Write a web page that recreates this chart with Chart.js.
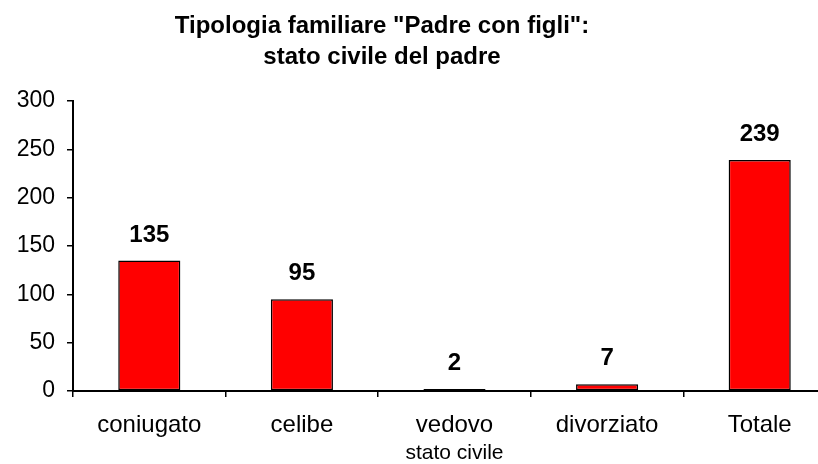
<!DOCTYPE html>
<html>
<head>
<meta charset="utf-8">
<script src="https://cdn.jsdelivr.net/npm/chart.js@4"></script>
<style>
    html, body { margin: 0; padding: 0; background: #fff; overflow: hidden; }
    canvas { display: block; }
</style>
</head>
<body>
<canvas id="chart" width="836" height="464"></canvas>
<script>
// --- Data ---
const categories = ['coniugato', 'celibe', 'vedovo', 'divorziato', 'Totale'];
const padri = [135, 95, 2, 7, 239];
const titleLines = ['Tipologia familiare "Padre con figli":', 'stato civile del padre'];
const xTitle = 'stato civile';
const yMin = 0, yMax = 300, yStep = 50;

const FONT = '"Liberation Sans", Arial, sans-serif';

// title drawn a bit left of canvas centre, like the original
const titlePlugin = {
    id: 'twoLineTitle',
    afterDraw(chart) {
        const ctx = chart.ctx;
        ctx.save();
        ctx.fillStyle = '#000';
        ctx.font = 'bold 24px ' + FONT;
        ctx.textAlign = 'center';
        ctx.textBaseline = 'alphabetic';
        ctx.fillText(titleLines[0], 382, 33);
        ctx.fillText(titleLines[1], 382, 64);
        ctx.restore();
    }
};

// value labels above the bars
const valuePlugin = {
    id: 'valueLabels',
    afterDatasetsDraw(chart) {
        const ctx = chart.ctx;
        const meta = chart.getDatasetMeta(0);
        ctx.save();
        ctx.fillStyle = '#000';
        ctx.font = 'bold 24px ' + FONT;
        ctx.textAlign = 'center';
        ctx.textBaseline = 'alphabetic';
        meta.data.forEach((bar, i) => {
            ctx.fillText(String(padri[i]), bar.x, bar.y - 19);
        });
        ctx.restore();
    }
};

new Chart(document.getElementById('chart'), {
    type: 'bar',
    data: {
        labels: categories,
        datasets: [{
            data: padri,
            backgroundColor: '#ff0000',
            borderColor: '#000',
            borderWidth: 1.5,
            borderSkipped: false,
            barPercentage: 0.407,
            categoryPercentage: 1
        }]
    },
    options: {
        responsive: false,
        animation: false,
        layout: { padding: { top: 101, left: 0, right: 0, bottom: 0 } },
        plugins: { legend: { display: false }, tooltip: { enabled: false }, title: { display: false } },
        scales: {
            x: {
                afterFit: (scale) => { scale.height = 73; },
                grid: { offset: true, drawOnChartArea: false, drawTicks: true, tickLength: 6, color: '#000', lineWidth: 1.5 },
                border: { display: true, color: '#000', width: 2 },
                ticks: { color: '#000', font: { family: FONT, size: 24 }, padding: 14, maxRotation: 0 },
                title: { display: true, text: xTitle, color: '#000', font: { family: FONT, size: 21, lineHeight: 1 }, padding: { top: 0, bottom: 0 } }
            },
            y: {
                min: yMin, max: yMax,
                afterFit: (scale) => { scale.width = 73; },
                grid: { drawOnChartArea: false, drawTicks: true, tickLength: 6, color: '#000', lineWidth: 1.5 },
                border: { display: true, color: '#000', width: 2 },
                ticks: { stepSize: yStep, color: '#000', font: { family: FONT, size: 23 }, padding: 12 }
            }
        }
    },
    plugins: [titlePlugin, valuePlugin]
});
</script>
</body>
</html>
